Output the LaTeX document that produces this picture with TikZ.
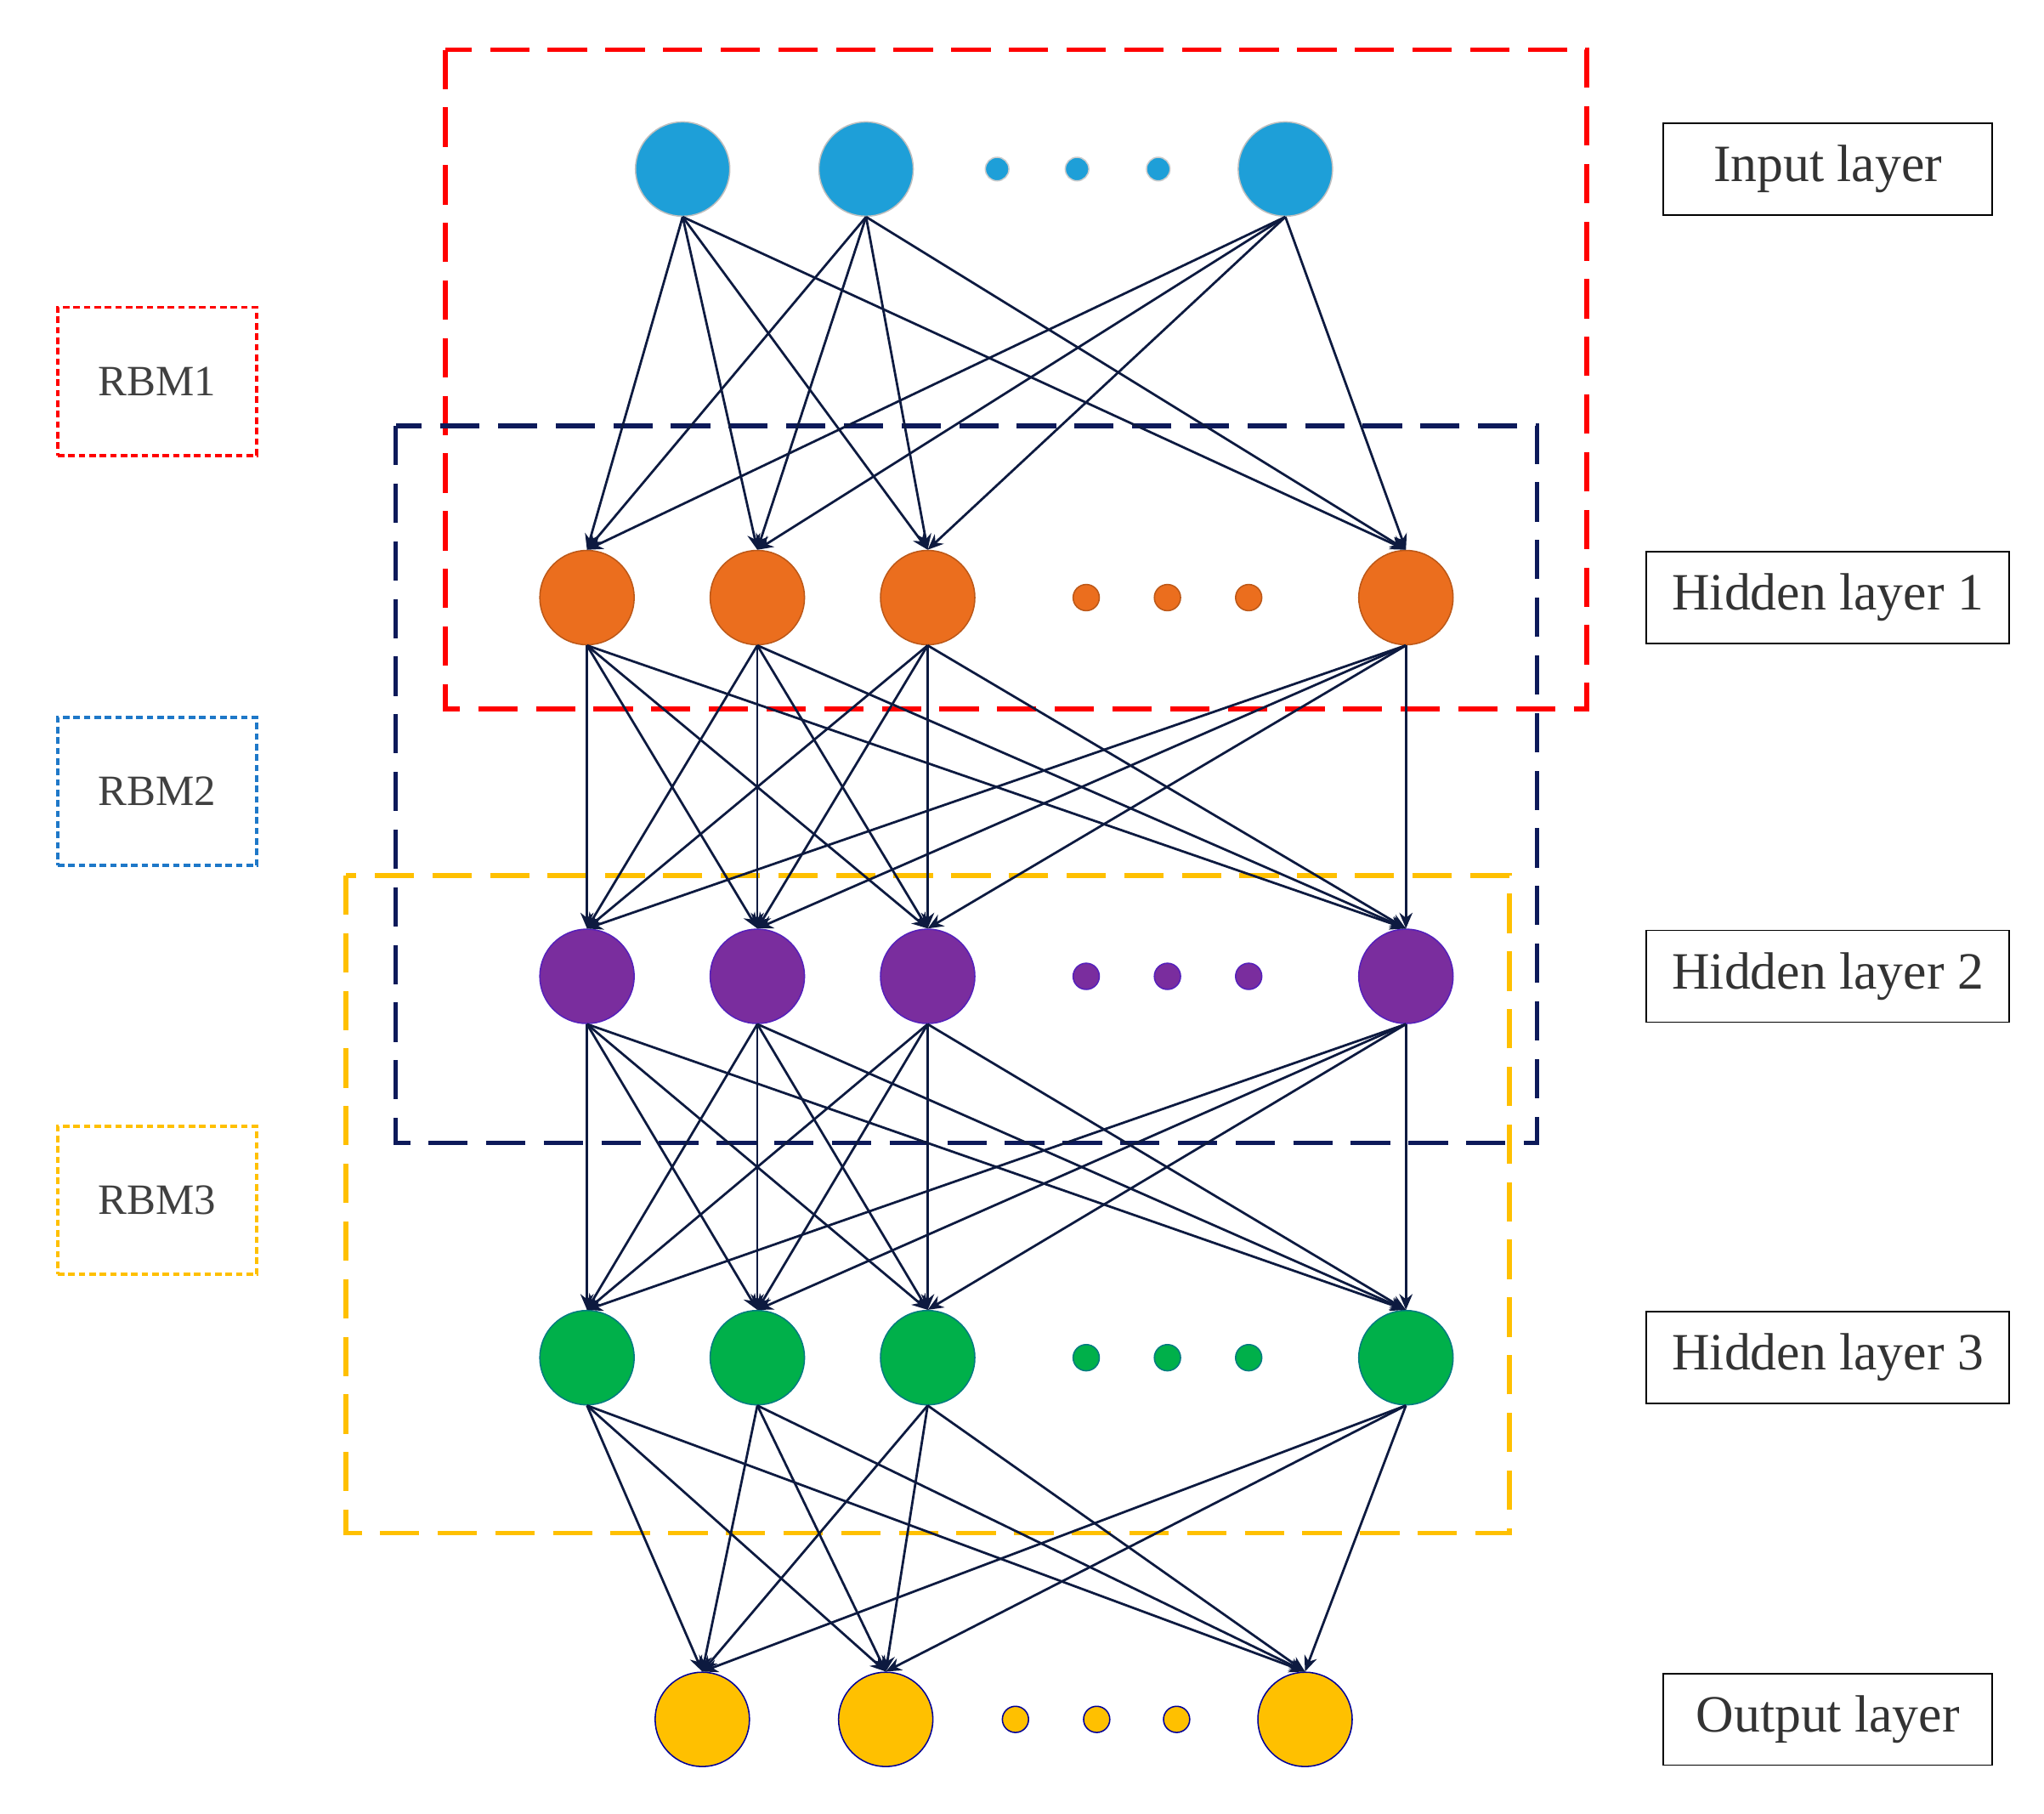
\documentclass[tikz,border=0pt]{standalone}
\usepackage{fontspec}
\setmainfont{Liberation Serif}
\usetikzlibrary{arrows.meta}
\definecolor{edge}{HTML}{0D1A40}
\definecolor{cin}{HTML}{1E9FD8}
\definecolor{cor}{HTML}{EB6E1E}
\definecolor{cpu}{HTML}{7A2D9E}
\definecolor{cgr}{HTML}{00B04A}
\definecolor{cye}{HTML}{FFC000}
\definecolor{rbmblue}{HTML}{1E78C8}
\definecolor{navyb}{HTML}{0D1A5A}
\begin{document}
\begin{tikzpicture}[x=1pt,y=-1pt,
  neu/.style={circle,minimum size=72pt,inner sep=0pt,line width=1pt},
  dot/.style={circle,minimum size=20pt,inner sep=0pt,line width=1pt},
  lab/.style={draw,line width=1pt,minimum height=70pt,font=\fontsize{40}{46}\selectfont,text=black!80},
  rbm/.style={draw,line width=2.5pt,dash pattern=on 5pt off 3pt,minimum width=152pt,minimum height=113pt,font=\fontsize{33}{38}\selectfont,text=black!75},
  big/.style={line width=3.5pt,dash pattern=on 30pt off 14pt},
  con/.style={draw=edge,line width=1.8pt,-{Stealth[length=12pt,width=10pt]}}]
\useasboundingbox (0,0) rectangle (1560,1384);
% groups
\draw[big,red] (340,38) rectangle (1211,541);
\draw[big,navyb] (302,325) rectangle (1173,872);
\draw[big,cye] (264,668) rectangle (1152,1170);
% layers
\foreach \i/\x in {1/521,2/661,3/981} \node[neu,fill=cin,draw=gray!50] (i\i) at (\x,129) {};
\foreach \i/\x in {1/761,2/822,3/884} \node[dot,fill=cin,draw=gray!40,minimum size=18pt] (id\i) at (\x,129) {};
\foreach \l/\y/\c/\d in {a/456/cor/cor!80!black,b/745/cpu/cpu!70!blue,c/1036/cgr/cgr!70!blue}{
  \foreach \i/\x in {1/448,2/578,3/708,4/1073} \node[neu,fill=\c,draw=\d] (\l\i) at (\x,\y) {};
  \foreach \i/\x in {1/829,2/891,3/953} \node[dot,fill=\c,draw=\d] (\l d\i) at (\x,\y) {};
}
\foreach \i/\x in {1/536,2/676,3/996} \node[neu,fill=cye,draw=blue!60!black] (o\i) at (\x,1312) {};
\foreach \i/\x in {1/775,2/837,3/898} \node[dot,fill=cye,draw=blue!60!black] (od\i) at (\x,1312) {};
% connections
\foreach \s in {1,2,3} \foreach \t in {1,2,3,4} \draw[con] (i\s.south) -- (a\t.north);
\foreach \s in {1,2,3,4} \foreach \t in {1,2,3,4} {\draw[con] (a\s.south) -- (b\t.north); \draw[con] (b\s.south) -- (c\t.north);}
\foreach \s in {1,2,3,4} \foreach \t in {1,2,3} \draw[con] (c\s.south) -- (o\t.north);
% labels
\node[lab,minimum width=251pt] (li) at (1395,129) {Input layer};
\node[lab,minimum width=277pt] (l1) at (1395,456) {Hidden layer 1};
\node[lab,minimum width=277pt] (l2) at (1395,745) {Hidden layer 2};
\node[lab,minimum width=277pt] (l3) at (1395,1036) {Hidden layer 3};
\node[lab,minimum width=251pt] (lo) at (1395,1312) {Output layer};
\node[rbm,draw=red] (r1) at (120,291) {RBM1};
\node[rbm,draw=rbmblue] (r2) at (120,604) {RBM2};
\node[rbm,draw=cye] (r3) at (120,916) {RBM3};
\end{tikzpicture}
\end{document}
